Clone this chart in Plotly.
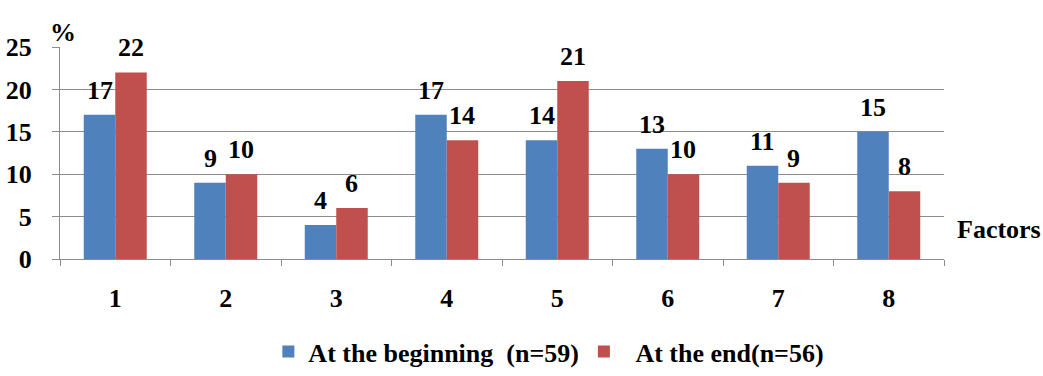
import plotly.graph_objects as go

factors = ["1", "2", "3", "4", "5", "6", "7", "8"]
beginning = [17, 9, 4, 17, 14, 13, 11, 15]
end = [22, 10, 6, 14, 21, 10, 9, 8]
y_ticks = [0, 5, 10, 15, 20, 25]

FONT = "Liberation Serif"
AXIS_GREY = "#8c8c8c"
SIZE = 26
BOLD = dict(family=FONT, size=SIZE, color="black", weight="bold")

W, H = 1043, 376
M_L, M_R, M_T, M_B = 60, 99, 47, 117
BARGAP = 0.43

fig = go.Figure()
fig.add_trace(go.Bar(
    x=factors, y=beginning, name="At the beginning  (n=59)",
    marker=dict(color="#4f81bd", line=dict(width=0)),
))
fig.add_trace(go.Bar(
    x=factors, y=end, name="  At the end(n=56)",
    marker=dict(color="#c0504d", line=dict(width=0)),
))

# value labels above each bar, offset to the bar's half of the group
# (category axis: annotation x is the category index)
cat_px = (W - M_L - M_R) / len(factors)
half_bar = cat_px * (1 - BARGAP) / 4
for series, shift in ((beginning, -half_bar), (end, half_bar)):
    for idx, val in enumerate(series):
        fig.add_annotation(
            x=idx, y=val, text=str(val), showarrow=False,
            xanchor="center", yanchor="bottom", xshift=shift, yshift=8,
            font=BOLD,
        )

fig.update_layout(
    width=W, height=H,
    margin=dict(l=M_L, r=M_R, t=M_T, b=M_B, autoexpand=False),
    paper_bgcolor="white", plot_bgcolor="white",
    barmode="group", bargap=BARGAP, bargroupgap=0,
    font=dict(family=FONT, size=SIZE, color="black", weight="bold"),
    legend=dict(
        orientation="h", x=0.553, xanchor="center", y=-0.548, yanchor="bottom",
        font=BOLD, itemwidth=30, traceorder="normal",
    ),
    xaxis=dict(
        type="category",
        showgrid=False, showline=True, linecolor=AXIS_GREY, linewidth=1,
        ticks="outside", tickson="boundaries", ticklen=6, tickcolor=AXIS_GREY,
        tickfont=BOLD, ticklabelstandoff=16, automargin=False,
    ),
    yaxis=dict(
        range=[0, 25], tickvals=y_ticks,
        showgrid=True, gridcolor=AXIS_GREY, gridwidth=1,
        showline=True, linecolor=AXIS_GREY, linewidth=1,
        ticks="outside", ticklen=7, tickcolor=AXIS_GREY,
        tickfont=BOLD, ticklabelstandoff=15, zeroline=False, automargin=False,
    ),
)

fig.add_annotation(
    text="%", xref="paper", yref="paper", x=0, y=1.0,
    xanchor="right", yanchor="bottom", xshift=18, yshift=-2,
    showarrow=False, font=BOLD,
)
fig.add_annotation(
    text="Factors", xref="paper", yref="paper", x=1.0, y=0.14,
    xanchor="left", yanchor="middle", xshift=11,
    showarrow=False, font=BOLD,
)

fig.write_html("out.html")
